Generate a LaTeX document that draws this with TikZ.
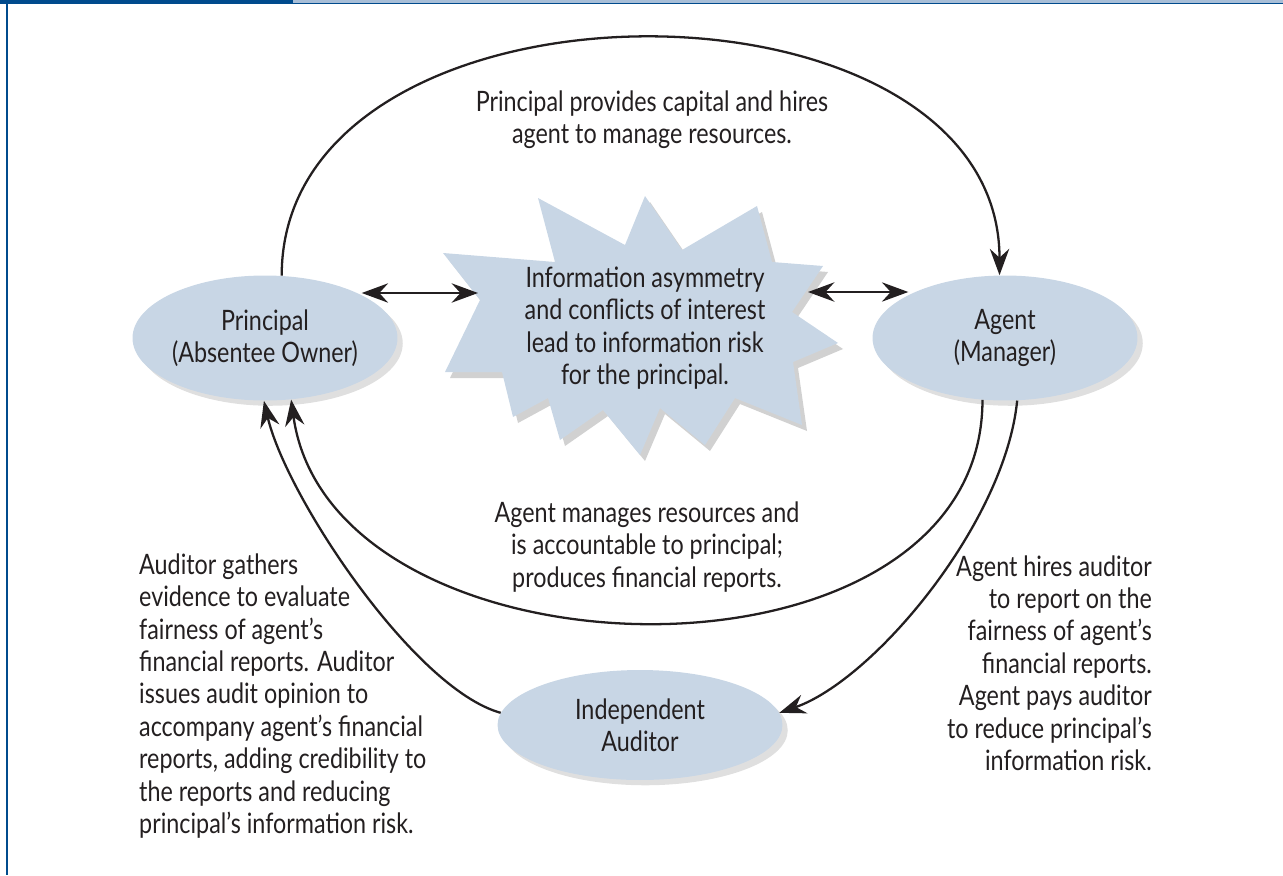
\documentclass[tikz,border=0pt]{standalone}
\usepackage{fontspec}
\setmainfont{Lato}[FakeStretch=0.83]
\usetikzlibrary{arrows.meta,shapes.geometric,shadows}

\definecolor{frameblue}{RGB}{0,75,141}
\definecolor{barblue}{RGB}{168,190,215}
\definecolor{ovalfill}{RGB}{200,214,229}
\definecolor{inkgray}{RGB}{35,31,32}

\newcommand\burstpath{(538,198) -- (625,245) -- (645,196) -- (682,250) -- (757,206) -- (772,262) -- (823,266) -- (792,312) -- (838,343) -- (793,362) -- (802,425) -- (735,398) -- (705,445) -- (660,408) -- (640,455) -- (603,410) -- (560,440) -- (548,398) -- (513,417) -- (502,372) -- (445,372) -- (480,300) -- (443,253) -- (555,262) -- cycle}

\tikzset{
  txt/.style={text=inkgray,font=\fontsize{16}{18.43}\selectfont},
  oval/.style={txt,ellipse,fill=ovalfill,inner sep=0pt,align=center,
    minimum width=5.3cm,minimum height=2.5cm,
    drop shadow={shadow xshift=3pt,shadow yshift=-3pt,opacity=.25}},
  flow/.style={inkgray,line width=1.3pt,-{Stealth[length=15pt,width=11pt,inset=5pt]}},
  dbl/.style={inkgray,line width=1.2pt,{Stealth[length=15pt,width=11pt,inset=5pt]}-{Stealth[length=15pt,width=11pt,inset=5pt]}}
}

\begin{document}
\begin{tikzpicture}[x=0.02cm,y=-0.02cm]
\useasboundingbox (0,0) rectangle (1283,875);

% frame
\fill[frameblue] (0,0) rectangle (293,4);
\fill[barblue] (293,0) rectangle (1283,3);
\fill[frameblue] (293,3) rectangle (1283,4.2);
\fill[frameblue] (6,0) rectangle (7.5,875);

% starburst
\begin{scope}[shift={(5,6)}]
\fill[black,opacity=.18] \burstpath;
\end{scope}
\fill[ovalfill] \burstpath;
\node[txt,align=center] (risk) at (645,328) {Information asymmetry\\and conflicts of interest\\lead to information risk\\for the principal.};
\coordinate (riskw) at (478,293);
\coordinate (riske) at (808,292);

% parties
\node[oval] (princ) at (265,338) {Principal\\(Absentee Owner)};
\node[oval] (agent) at (1005,338) {Agent\\(Manager)};
\node[oval,minimum width=5.7cm,minimum height=2.2cm] (audit) at (640,725) {Independent\\Auditor};

% texts
\node[txt,align=center] (hire) at (652,120) {Principal provides capital and hires\\agent to manage resources.};
\node[txt,align=center] (manage) at (647,547) {Agent manages resources and\\is accountable to principal;\\produces financial reports.};
\node[txt,align=left,anchor=west] (gather) at (133,696) {Auditor gathers\\evidence to evaluate\\fairness of agent’s\\financial reports. Auditor\\issues audit opinion to\\accompany agent’s financial\\reports, adding credibility to\\the reports and reducing\\principal’s information risk.};
\node[txt,align=right,anchor=east] (pays) at (1158,663) {Agent hires auditor\\to report on the\\fairness of agent’s\\financial reports.\\Agent pays auditor\\to reduce principal’s\\information risk.};

% connectors
\draw[flow] (princ.75) .. controls +(0,-316) and +(0,-316) .. (agent.95);
\draw[flow] (agent.-110) .. controls +(0,303) and +(40,290) .. (princ.-67);
\draw[flow] (agent.-79) .. controls +(-12,122) and +(95,-33) .. (audit.5);
\draw[flow] (audit.175) .. controls +(-87,-24) and +(22,95) .. (princ.-91);
\draw[dbl] (princ.24 |- riskw) -- (riskw);
\draw[dbl] (riske) -- (agent.156 |- riske);
\end{tikzpicture}
\end{document}
